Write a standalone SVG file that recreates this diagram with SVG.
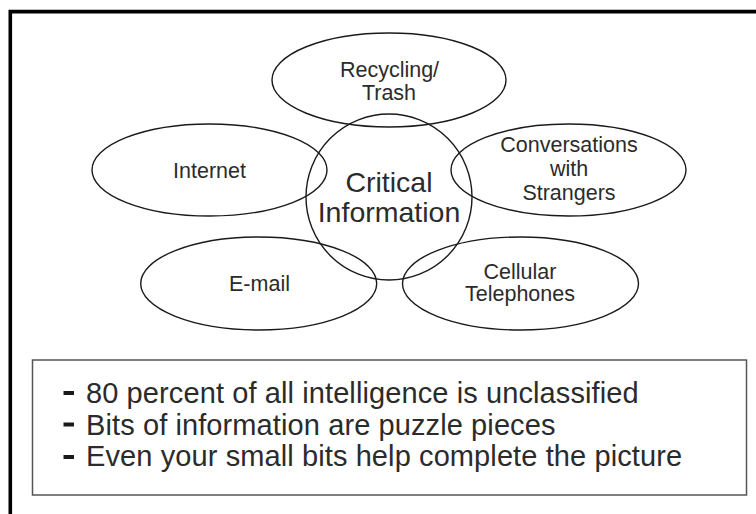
<svg xmlns="http://www.w3.org/2000/svg" width="756" height="514" viewBox="0 0 756 514">
<defs>
<style>
.node{fill:none;stroke:#1a1a1a;stroke-width:1.4}
.lbl{font-family:"Liberation Sans",Arial,sans-serif;font-size:21.5px;fill:#2b2b2b;text-anchor:middle}
.big{font-family:"Liberation Sans",Arial,sans-serif;font-size:28.5px;fill:#2b2b2b;text-anchor:middle}
.bul{font-family:"Liberation Sans",Arial,sans-serif;font-size:29px;letter-spacing:0.1px;fill:#2b2b2b}
.mark{fill:#1a1a1a}
</style>
</defs>
<rect width="756" height="514" fill="#ffffff"/>
<path d="M10.3,514 V11.6 H756" fill="none" stroke="#000" stroke-width="3.6"/>
<g id="connectors"></g>
<g id="recycling">
<ellipse class="node" cx="389" cy="80" rx="117" ry="47"/>
<text class="lbl" x="389.5" y="76.5">Recycling/</text>
<text class="lbl" x="389" y="100">Trash</text>
</g>
<g id="internet">
<ellipse class="node" cx="209.5" cy="170" rx="117.5" ry="46"/>
<text class="lbl" x="209.5" y="178">Internet</text>
</g>
<g id="conversations">
<ellipse class="node" cx="568.5" cy="170" rx="117.5" ry="46"/>
<text class="lbl" x="569" y="152">Conversations</text>
<text class="lbl" x="569" y="176">with</text>
<text class="lbl" x="569" y="200">Strangers</text>
</g>
<g id="email">
<ellipse class="node" cx="258.7" cy="283.5" rx="118" ry="46.5"/>
<text class="lbl" x="259.5" y="291">E-mail</text>
</g>
<g id="cellular">
<ellipse class="node" cx="520.5" cy="283.5" rx="118" ry="46.5"/>
<text class="lbl" x="520" y="278.5">Cellular</text>
<text class="lbl" x="520" y="301">Telephones</text>
</g>
<g id="critical">
<circle class="node" cx="389" cy="197" r="83"/>
<text class="big" x="389" y="191.5">Critical</text>
<text class="big" x="389" y="222">Information</text>
</g>
<g id="notes">
<rect x="32.5" y="360" width="714" height="135" fill="none" stroke="#555" stroke-width="1.5"/>
<rect class="mark" x="63.5" y="391" width="10.5" height="4"/>
<rect class="mark" x="63.5" y="422.5" width="10.5" height="4"/>
<rect class="mark" x="63.5" y="455" width="10.5" height="4"/>
<text class="bul" x="86" y="403">80 percent of all intelligence is unclassified</text>
<text class="bul" x="86" y="434.5">Bits of information are puzzle pieces</text>
<text class="bul" x="86" y="466">Even your small bits help complete the picture</text>
</g>
</svg>
